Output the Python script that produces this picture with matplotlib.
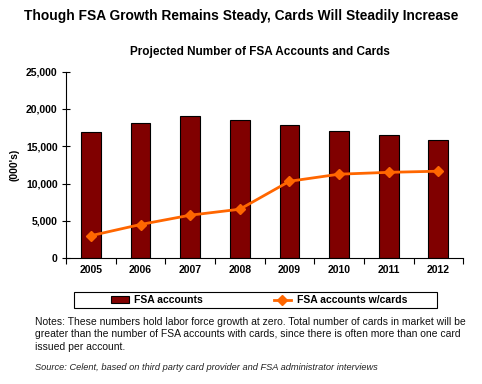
import matplotlib
matplotlib.use("Agg")
import matplotlib.pyplot as plt
from matplotlib.patches import Rectangle
import numpy as np

years = ["2005", "2006", "2007", "2008", "2009", "2010", "2011", "2012"]
fsa_accounts = [16900, 18100, 19000, 18500, 17800, 17100, 16500, 15900]
fsa_with_cards = [3000, 4500, 5750, 6550, 10300, 11250, 11500, 11650]
y_ticks = [0, 5000, 10000, 15000, 20000, 25000]

plt.rcParams['font.family'] = ['Liberation Sans', 'DejaVu Sans']

fig = plt.figure(figsize=(4.82, 3.84), dpi=100)
ax = fig.add_axes([0.137, 0.328, 0.824, 0.4853])

x = np.arange(len(years))
bars = ax.bar(x, fsa_accounts, width=0.4, color="#800000", edgecolor="black",
              linewidth=0.8, label="FSA accounts", zorder=2)
line, = ax.plot(x, fsa_with_cards, color="#FF6600", lw=2, marker="D",
                markersize=5.5, label="FSA accounts w/cards", zorder=3)

ax.set_xlim(-0.5, len(years) - 0.5)
ax.set_ylim(0, 25000)
ax.set_yticks(y_ticks)
ax.set_yticklabels([f"{v:,}" for v in y_ticks], fontsize=7.5, fontweight="bold")
ax.set_xticks(x)
ax.set_xticklabels(years, fontsize=7.5, fontweight="bold")
ax.set_xticks(np.arange(-0.5, len(years)), minor=True)
ax.tick_params(axis="x", which="major", length=0, pad=5)
ax.tick_params(axis="x", which="minor", length=4, direction="out", width=0.8)
ax.tick_params(axis="y", length=6, direction="inout", width=0.8, pad=3)
for s in ["top", "right"]:
    ax.spines[s].set_visible(False)
for s in ["left", "bottom"]:
    ax.spines[s].set_linewidth(0.8)

ax.set_ylabel("(000's)", fontsize=7.5, fontweight="bold")
ax.yaxis.set_label_coords(-0.118, 0.5)

fig.text(0.5, 0.958, "Though FSA Growth Remains Steady, Cards Will Steadily Increase",
         ha="center", va="center", fontsize=9.9, fontweight="bold")
fig.text(0.539, 0.865, "Projected Number of FSA Accounts and Cards",
         ha="center", va="center", fontsize=8.5, fontweight="bold")

# legend frame
fig.patches.append(Rectangle((74 / 482, 1 - 308 / 384), (437 - 74) / 482, 16 / 384,
                             transform=fig.transFigure, fill=False,
                             edgecolor="black", linewidth=0.8))
leg = fig.legend(handles=[bars, line], labels=["FSA accounts", "FSA accounts w/cards"],
                 loc="center", bbox_to_anchor=(259 / 482, 1 - 300 / 384),
                 ncol=2, prop={"weight": "bold", "size": 7.5},
                 frameon=False, handlelength=1.7, handleheight=0.6,
                 handletextpad=0.5, columnspacing=6.8, borderpad=0.1)

notes = ("Notes: These numbers hold labor force growth at zero. Total number of cards in market will be\n"
         "greater than the number of FSA accounts with cards, since there is often more than one card\n"
         "issued per account.")
fig.text(0.0726, 0.174, notes, ha="left", va="top", fontsize=7.45,
         linespacing=1.27, color="#111111")
fig.text(0.0726, 0.044, "Source: Celent, based on third party card provider and FSA administrator interviews",
         ha="left", va="center", fontsize=6.7, style="italic", color="#222222")

fig.savefig("out.png", dpi=100)
